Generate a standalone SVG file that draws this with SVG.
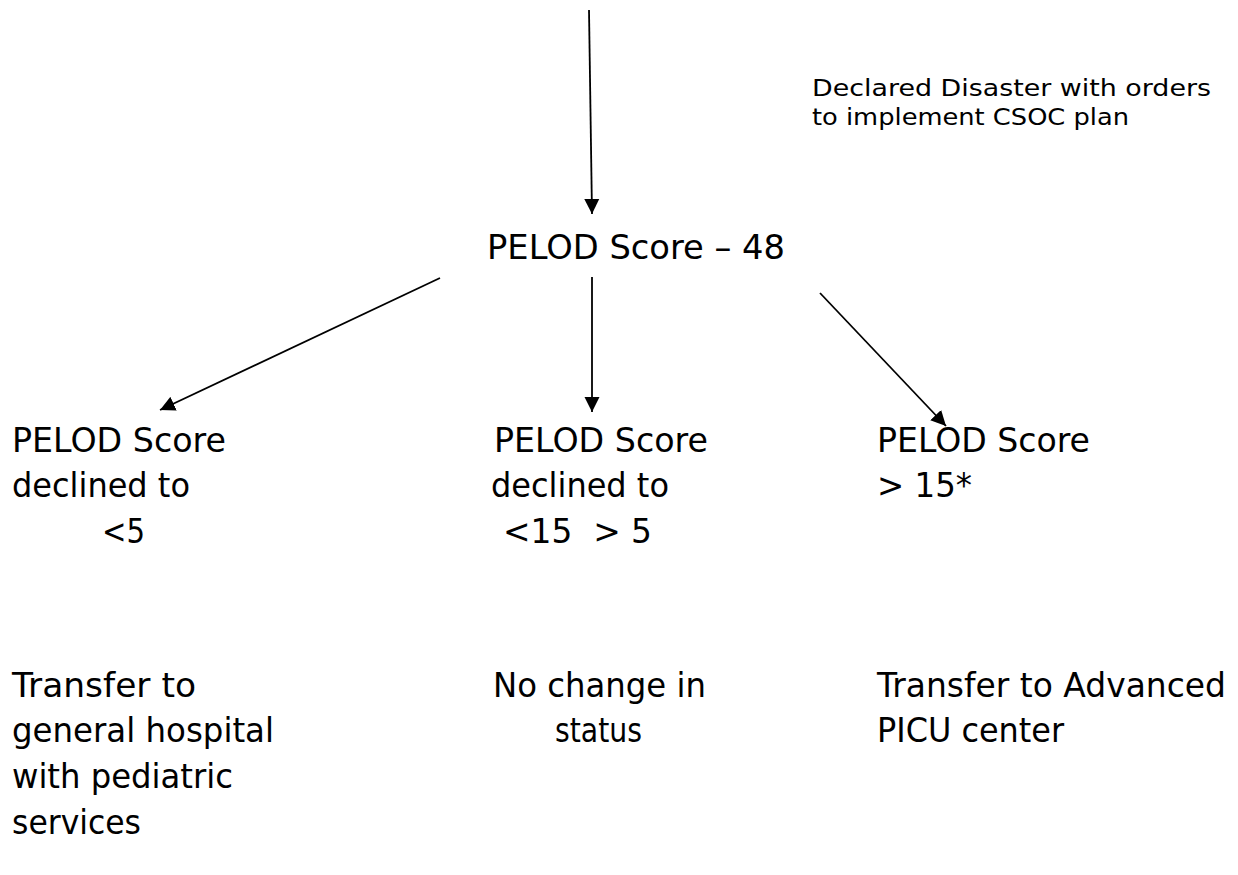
<svg xmlns="http://www.w3.org/2000/svg" width="1238" height="875" viewBox="0 0 1238 875">
  <style>
    .t { font-family: "DejaVu Sans", Verdana, sans-serif; font-size: 33px; fill: #000; }
    .s { font-family: "DejaVu Sans", Verdana, sans-serif; font-size: 23px; fill: #000; }
    .c { stroke: #000; stroke-width: 1.8; fill: none; marker-end: url(#ah); }
  </style>
  <defs>
    <marker id="ah" markerUnits="userSpaceOnUse" markerWidth="16" markerHeight="16" refX="15" refY="8" orient="auto" viewBox="0 0 16 16">
      <path d="M0,0.5 L15,8 L0,15.5 Z" fill="#000"/>
    </marker>
  </defs>
  <rect width="1238" height="875" fill="#fff"/>
  <g id="connectors">
    <line class="c" x1="589" y1="10" x2="592" y2="214"/>
    <line class="c" x1="592" y1="277" x2="592" y2="412"/>
    <line class="c" x1="440" y1="278" x2="160" y2="410"/>
    <line class="c" x1="820" y1="293" x2="946" y2="426"/>
  </g>
  <g id="note">
    <text class="s" x="812" y="96" textLength="399" lengthAdjust="spacingAndGlyphs">Declared Disaster with orders</text>
    <text class="s" x="812" y="125" textLength="317" lengthAdjust="spacingAndGlyphs">to implement CSOC plan</text>
  </g>
  <g id="root">
    <text class="t" x="487" y="259" textLength="298" lengthAdjust="spacingAndGlyphs">PELOD Score – 48</text>
  </g>
  <g id="left">
    <text class="t" x="12" y="452" textLength="214" lengthAdjust="spacingAndGlyphs">PELOD Score</text>
    <text class="t" x="12" y="497" textLength="178" lengthAdjust="spacingAndGlyphs">declined to</text>
    <text class="t" x="102" y="543" textLength="43" lengthAdjust="spacingAndGlyphs">&lt;5</text>
  </g>
  <g id="middle">
    <text class="t" x="494" y="452" textLength="214" lengthAdjust="spacingAndGlyphs">PELOD Score</text>
    <text class="t" x="491" y="497" textLength="178" lengthAdjust="spacingAndGlyphs">declined to</text>
    <text class="t" x="503" y="543" textLength="149" lengthAdjust="spacingAndGlyphs" xml:space="preserve">&lt;15  &gt; 5</text>
  </g>
  <g id="right">
    <text class="t" x="877" y="452" textLength="213" lengthAdjust="spacingAndGlyphs">PELOD Score</text>
    <text class="t" x="877" y="497" textLength="95" lengthAdjust="spacingAndGlyphs">&gt; 15*</text>
  </g>
  <g id="outcome-left">
    <text class="t" x="12" y="697" textLength="184" lengthAdjust="spacingAndGlyphs">Transfer to</text>
    <text class="t" x="12" y="742" textLength="262" lengthAdjust="spacingAndGlyphs">general hospital</text>
    <text class="t" x="12" y="788" textLength="221" lengthAdjust="spacingAndGlyphs">with pediatric</text>
    <text class="t" x="12" y="834" textLength="129" lengthAdjust="spacingAndGlyphs">services</text>
  </g>
  <g id="outcome-middle">
    <text class="t" x="493" y="697" textLength="213" lengthAdjust="spacingAndGlyphs">No change in</text>
    <text class="t" x="555" y="742" textLength="87" lengthAdjust="spacingAndGlyphs">status</text>
  </g>
  <g id="outcome-right">
    <text class="t" x="877" y="697" textLength="349" lengthAdjust="spacingAndGlyphs">Transfer to Advanced</text>
    <text class="t" x="877" y="742" textLength="187" lengthAdjust="spacingAndGlyphs">PICU center</text>
  </g>
</svg>
